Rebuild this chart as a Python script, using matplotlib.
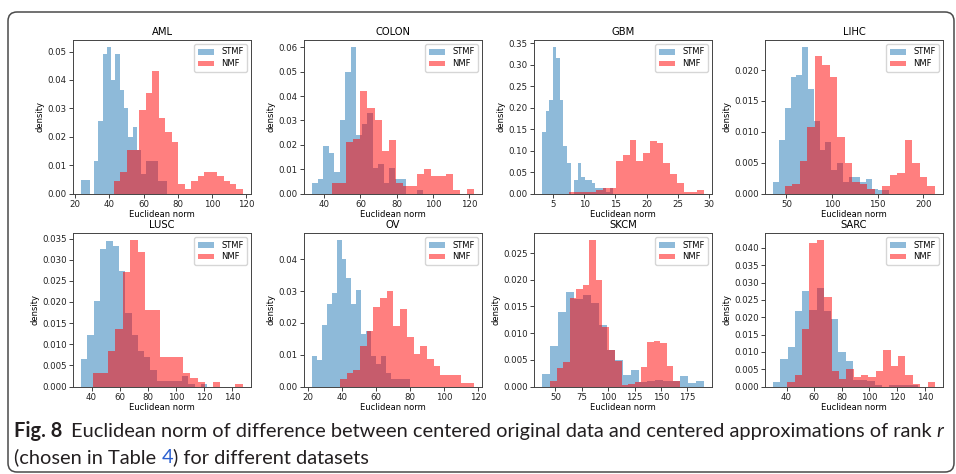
import numpy as np
import matplotlib
matplotlib.use("Agg")
import matplotlib.pyplot as plt
from matplotlib.patches import FancyBboxPatch
from matplotlib.transforms import IdentityTransform
from matplotlib import font_manager

# ---------------- data (bin ranges + densities) ----------------
panels = ["AML", "COLON", "GBM", "LIHC", "LUSC", "OV", "SKCM", "SARC"]

aml_stmf_range = (23.5, 73.7)
aml_stmf = [0.0047, 0.0047, 0, 0.0115, 0.0255, 0.049, 0.0515, 0.040, 0.049, 0.0365,
            0.030, 0.020, 0.0235, 0.0155, 0.007, 0.0115, 0.0115, 0.0115, 0.0045, 0.0045]
aml_nmf_range = (42.5, 118.0)
aml_nmf = [0.0045, 0.0074, 0.0155, 0.0155, 0.0294, 0.0355, 0.0433, 0.0265, 0.0218, 0.0182,
           0.0032, 0.0015, 0.0045, 0.0061, 0.0076, 0.0076, 0.0061, 0.0045, 0.0032, 0.0015]
aml_xticks = ["20", "40", "60", "80", "100", "120"]
aml_yticks = ["0.00", "0.01", "0.02", "0.03", "0.04", "0.05"]

colon_stmf_range = (33.3, 94.3)
colon_stmf = [0.0045, 0.006, 0.0195, 0.0165, 0.009, 0.030, 0.050, 0.060, 0.024, 0.0285,
              0.033, 0.0105, 0.012, 0.0045, 0.0105, 0.006, 0.006, 0, 0, 0.0015]
colon_nmf_range = (44.25, 122.6)
colon_nmf = [0.0045, 0.0045, 0.021, 0.0225, 0.042, 0.035, 0.030, 0.0175, 0.022, 0.0045,
             0.003, 0.003, 0.008, 0.0102, 0.0072, 0.0072, 0.008, 0.0015, 0, 0.0018]
colon_xticks = ["40", "60", "80", "100", "120"]
colon_yticks = ["0.00", "0.01", "0.02", "0.03", "0.04", "0.05", "0.06"]

gbm_stmf_range = (3.28, 14.65)
gbm_stmf = [0.144, 0.192, 0.219, 0.341, 0.315, 0.219, 0.111, 0.070, 0, 0.031,
            0.070, 0.039, 0.031, 0.031, 0.025, 0.012, 0.012, 0.012, 0.003, 0.012]
gbm_nmf_range = (7.57, 29.13)
gbm_nmf = [0.003, 0.003, 0.003, 0.003, 0.009, 0.013, 0.013, 0.075, 0.090, 0.125,
           0.075, 0.095, 0.122, 0.118, 0.070, 0.045, 0.025, 0.003, 0.003, 0.009]
gbm_xticks = ["5", "10", "15", "20", "25", "30"]
gbm_yticks = ["0.00", "0.05", "0.10", "0.15", "0.20", "0.25", "0.30", "0.35"]

lihc_stmf_range = (35.4, 162.7)
lihc_stmf = [0.0019, 0.0086, 0.0138, 0.0189, 0.0192, 0.0237, 0.0169, 0.0117, 0.0070, 0.0084,
             0.0038, 0.0049, 0.0019, 0.0027, 0.0027, 0.0019, 0.0023, 0.0008, 0.0006, 0.0006]
lihc_nmf_range = (48.2, 212.8)
lihc_nmf = [0.0012, 0.0015, 0.0053, 0.0107, 0.0223, 0.0208, 0.0189, 0.0092, 0.0050, 0.0019,
            0.0016, 0.0007, 0, 0.0012, 0.0030, 0.0034, 0.0087, 0.0050, 0.0026, 0.0012]
lihc_xticks = ["50", "100", "150", "200"]
lihc_yticks = ["0.000", "0.005", "0.010", "0.015", "0.020"]

lusc_stmf_range = (32.6, 122.1)
lusc_stmf = [0.0065, 0.0123, 0.0203, 0.0325, 0.0345, 0.0332, 0.0273, 0.0175, 0.0122, 0.0083,
             0.0071, 0.0038, 0.0012, 0.0012, 0.0012, 0.0012, 0.0026, 0.0005, 0, 0.0005]
lusc_nmf_range = (40.95, 147.4)
lusc_nmf = [0.0032, 0.0032, 0.0083, 0.0137, 0.027, 0.0346, 0.0318, 0.0182, 0.0182, 0.0071,
            0.0071, 0.0071, 0.0032, 0.0021, 0.001, 0, 0.001, 0, 0, 0.0006]
lusc_xticks = ["40", "60", "80", "100", "120", "140"]
lusc_yticks = ["0.000", "0.005", "0.010", "0.015", "0.020", "0.025", "0.030", "0.035"]

ov_stmf_range = (22.4, 80.0)
ov_stmf = [0.0095, 0.0082, 0.0192, 0.026, 0.0295, 0.046, 0.040, 0.034, 0.026, 0.0305,
           0.0165, 0.0175, 0.0095, 0.0072, 0.0095, 0.0042, 0.0023, 0.0023, 0.0023, 0.0023]
ov_nmf_range = (38.7, 117.4)
ov_nmf = [0.0023, 0.0042, 0.0053, 0.0126, 0.0176, 0.025, 0.028, 0.030, 0.019, 0.0245,
          0.0155, 0.0102, 0.0128, 0.0086, 0.0063, 0.0035, 0.0035, 0.0035, 0.001, 0.001]
ov_xticks = ["20", "40", "60", "80", "100", "120"]
ov_yticks = ["0.00", "0.01", "0.02", "0.03", "0.04"]

skcm_stmf_range = (37.3, 190.6)
skcm_stmf = [0.0023, 0.0075, 0.0139, 0.0178, 0.0164, 0.0172, 0.0156, 0.0116, 0.0069, 0.0049,
             0.0021, 0.003, 0.0008, 0.0011, 0.0012, 0.001, 0.0011, 0.002, 0.0006, 0.0011]
skcm_nmf_range = (45.2, 167.8)
skcm_nmf = [0.0011, 0.0034, 0.0046, 0.0165, 0.0183, 0.019, 0.0274, 0.0199, 0.0112, 0.0069,
            0.0048, 0.0003, 0.0005, 0.0008, 0.0036, 0.0083, 0.0086, 0.0081, 0.0039, 0.001]
skcm_xticks = ["50", "75", "100", "125", "150", "175"]
skcm_yticks = ["0.000", "0.005", "0.010", "0.015", "0.020", "0.025"]

sarc_stmf_range = (30.3, 135.1)
sarc_stmf = [0.0013, 0.0079, 0.0115, 0.0218, 0.0277, 0.022, 0.0284, 0.0217, 0.0195, 0.0101,
             0.0073, 0.0019, 0.0019, 0.0016, 0.0003, 0, 0.0005, 0.0005, 0.0005, 0.0005]
sarc_nmf_range = (40.5, 147.3)
sarc_nmf = [0.0013, 0.0034, 0.0166, 0.0414, 0.0422, 0.0258, 0.0045, 0.0021, 0.005, 0.0027,
            0.0034, 0.0027, 0.0045, 0.0106, 0.0058, 0.0087, 0.0034, 0.0008, 0, 0.0014]
sarc_xticks = ["40", "60", "80", "100", "120", "140"]
sarc_yticks = ["0.000", "0.005", "0.010", "0.015", "0.020", "0.025", "0.030", "0.035", "0.040"]

series_labels = ["STMF", "NMF"]
xlabel_text = "Euclidean norm"
ylabel_text = "density"

panel_data = {
    "AML": (aml_stmf_range, aml_stmf, aml_nmf_range, aml_nmf, aml_xticks, aml_yticks),
    "COLON": (colon_stmf_range, colon_stmf, colon_nmf_range, colon_nmf, colon_xticks, colon_yticks),
    "GBM": (gbm_stmf_range, gbm_stmf, gbm_nmf_range, gbm_nmf, gbm_xticks, gbm_yticks),
    "LIHC": (lihc_stmf_range, lihc_stmf, lihc_nmf_range, lihc_nmf, lihc_xticks, lihc_yticks),
    "LUSC": (lusc_stmf_range, lusc_stmf, lusc_nmf_range, lusc_nmf, lusc_xticks, lusc_yticks),
    "OV": (ov_stmf_range, ov_stmf, ov_nmf_range, ov_nmf, ov_xticks, ov_yticks),
    "SKCM": (skcm_stmf_range, skcm_stmf, skcm_nmf_range, skcm_nmf, skcm_xticks, skcm_yticks),
    "SARC": (sarc_stmf_range, sarc_stmf, sarc_nmf_range, sarc_nmf, sarc_xticks, sarc_yticks),
}

# ---------------- figure ----------------
W, H = 956, 474
fig = plt.figure(figsize=(W / 100, H / 100), dpi=100)
fig.patch.set_facecolor("white")

# rounded frame around the figure
frame = FancyBboxPatch((8, 2), 946, 460, boxstyle="round,pad=0,rounding_size=9",
                       transform=IdentityTransform(), facecolor="none",
                       edgecolor="#4a4a4a", linewidth=1.1)
fig.add_artist(frame)

lefts = [73, 304, 534, 765]
tops = [40, 233]
AW, AH = 178, 153.5

TICK_FS = 6.2
TITLE_FS = 7.2


def add_ax(l, t):
    return fig.add_axes([l / W, 1 - (t + AH) / H, AW / W, AH / H])


def hist_series(ax, rng, dens, **kw):
    edges = np.linspace(rng[0], rng[1], len(dens) + 1)
    mids = 0.5 * (edges[:-1] + edges[1:])
    ax.hist(mids, bins=edges, weights=dens, **kw)


for i, name in enumerate(panels):
    r, c = divmod(i, 4)
    ax = add_ax(lefts[c], tops[r])
    s_rng, s_d, n_rng, n_d, xt, yt = panel_data[name]
    hist_series(ax, s_rng, s_d, color="C0", alpha=0.5, label=series_labels[0])
    hist_series(ax, n_rng, n_d, color="red", alpha=0.5, label=series_labels[1])
    ax.set_xticks([float(v) for v in xt])
    ax.set_xticklabels(xt)
    ax.set_yticks([float(v) for v in yt])
    ax.set_yticklabels(yt)
    ax.tick_params(labelsize=TICK_FS, length=2.6, width=0.6, pad=1.8, colors="#222222")
    for sp in ax.spines.values():
        sp.set_linewidth(0.7)
        sp.set_color("#444444")
    ax.set_title(name, fontsize=TITLE_FS, pad=3.3)
    ax.set_xlabel(xlabel_text, fontsize=TICK_FS - 0.2, labelpad=1.3)
    ax.set_ylabel(ylabel_text, fontsize=TICK_FS - 0.2, labelpad=2)
    ax.legend(loc="upper right", fontsize=TICK_FS - 0.2, frameon=True,
              borderpad=0.4, handlelength=2.0, labelspacing=0.35, handletextpad=0.8)

# ---------------- caption ----------------


def pick(names):
    for n in names:
        try:
            font_manager.findfont(font_manager.FontProperties(family=n), fallback_to_default=False)
            return n
        except Exception:
            pass
    return "DejaVu Sans"


cap_family = pick(["Liberation Sans Narrow", "Lato", "Liberation Sans"])
cap_color = "#231f20"
link_color = "#2a5fd0"

line1 = [("Fig. 8", dict(weight="bold")),
         ("Euclidean norm of difference between centered original data and centered approximations of rank", {}),
         ("r", dict(style="italic"))]
line2 = [("(chosen in Table", {}), ("4", dict(color=link_color)), (") for different datasets", {})]
gaps1 = [1.6, 1.0]   # gap in units of space width
gaps2 = [1.0, 0.0]

renderer = fig.canvas.get_renderer()


def text_width(s, fs, **kw):
    t = fig.text(0, 0, s, transform=IdentityTransform(), fontsize=fs, family=cap_family, **kw)
    w = t.get_window_extent(renderer).width
    t.remove()
    return w


def space_width(fs):
    return text_width("x x", fs) - text_width("xx", fs)


def runs_width(runs, gaps, fs):
    w = sum(text_width(s, fs, **kw) for s, kw in runs)
    w += sum(gaps) * space_width(fs)
    return w


target = 944 - 14
fs0 = 12.0
cap_fs = fs0 * target / runs_width(line1, gaps1, fs0)


def draw_runs(runs, gaps, x, y, fs):
    sw = space_width(fs)
    for k, (s, kw) in enumerate(runs):
        kk = dict(color=cap_color)
        kk.update(kw)
        t = fig.text(x, y, s, transform=IdentityTransform(), fontsize=fs, family=cap_family,
                     va="baseline", ha="left", **kk)
        x = t.get_window_extent(renderer).x1
        if k < len(gaps):
            x += gaps[k] * sw


draw_runs(line1, gaps1, 14, H - 437, cap_fs)
draw_runs(line2, gaps2, 14, H - 463, cap_fs)

fig.savefig("out.png", dpi=100)
